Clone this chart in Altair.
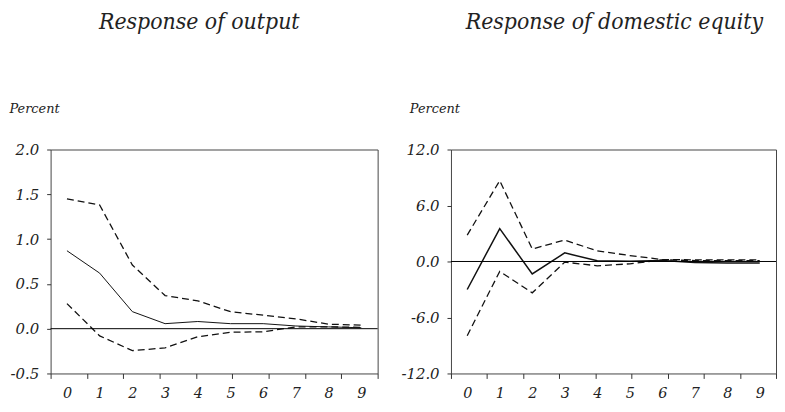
import altair as alt
import pandas as pd

# ---- data ----
steps = [0, 1, 2, 3, 4, 5, 6, 7, 8, 9]

output_mid = [0.87, 0.62, 0.19, 0.056, 0.08, 0.056, 0.056, 0.03, 0.02, 0.01]
output_upper = [1.45, 1.38, 0.71, 0.37, 0.31, 0.19, 0.15, 0.11, 0.05, 0.04]
output_lower = [0.28, -0.08, -0.245, -0.215, -0.09, -0.04, -0.035, 0.02, 0.02, 0.015]

equity_mid = [-3.0, 3.53, -1.34, 0.92, 0.07, 0.03, 0.10, -0.10, -0.15, -0.15]
equity_upper = [2.83, 8.66, 1.34, 2.30, 1.13, 0.64, 0.21, 0.18, 0.18, 0.18]
equity_lower = [-7.95, -1.06, -3.36, -0.07, -0.46, -0.25, 0.18, 0.10, 0.10, 0.10]

output_ticks = [-0.5, 0.0, 0.5, 1.0, 1.5, 2.0]
equity_ticks = [-12.0, -6.0, 0.0, 6.0, 12.0]
# bottom tick marks: 10 evenly spaced marks across the frame
x_tick_marks = [-0.5 + k * 10 / 9 for k in range(10)]

titles = ["Response of output", "Response of domestic equity"]
y_title = "Percent"

SERIF = "DejaVu Serif"
TITLE_FONT = "DejaVu Serif Condensed, DejaVu Serif"
INK = "#222222"


def make_df(mid, upper, lower):
    rows = []
    for s, m, u, l in zip(steps, mid, upper, lower):
        rows.append({"step": s, "value": m, "kind": "mid"})
        rows.append({"step": s, "value": u, "kind": "upper"})
        rows.append({"step": s, "value": l, "kind": "lower"})
    return pd.DataFrame(rows)


def panel(df, ydomain, yvalues, title, dx, width, mid_width):
    xscale = alt.Scale(domain=[-0.5, 9.5], nice=False, zero=False)
    yscale = alt.Scale(domain=ydomain, nice=False, zero=False)
    label_axis = alt.Axis(
        values=steps, ticks=False, domain=False, grid=False, title=None,
        orient="bottom", labelFont=SERIF, labelFontStyle="italic",
        labelFontSize=14.5, labelColor=INK, labelPadding=13,
        labelFlush=False, labelOverlap=False,
    )
    tick_axis = alt.Axis(
        values=x_tick_marks, labels=False, ticks=True, tickSize=5,
        tickColor="#333333", tickWidth=1, domain=False, grid=False,
        title=None, orient="bottom",
    )
    yaxis = alt.Axis(
        values=yvalues,
        labelExpr="replace(format(datum.value, '.1f'), '\u2212', '-')",
        tickSize=4, tickColor="#333333", domain=False, grid=False,
        labelFont=SERIF, labelFontStyle="italic", labelFontSize=15,
        labelColor=INK, labelPadding=8, labelFlush=False, labelOverlap=False,
        title=y_title, titleAngle=0, titleAlign="left", titleBaseline="alphabetic",
        titleX=-42, titleY=-37, titleFont=SERIF, titleFontStyle="italic",
        titleFontWeight="normal", titleFontSize=13, titleColor=INK,
    )
    y_enc = alt.Y("value:Q", scale=yscale, axis=yaxis)

    mid = alt.Chart(df).transform_filter(alt.datum.kind == "mid").mark_line(
        color="#111111", strokeWidth=mid_width
    ).encode(x=alt.X("step:Q", scale=xscale, axis=label_axis), y=y_enc)

    band = alt.Chart(df).transform_filter(alt.datum.kind != "mid").mark_line(
        color="#111111", strokeWidth=1.3, strokeDash=[7, 4]
    ).encode(
        x=alt.X("step:Q", scale=xscale, axis=tick_axis),
        y=y_enc,
        detail="kind:N",
    )

    zero = alt.Chart(pd.DataFrame({"value": [0.0]})).mark_rule(
        color="black", strokeWidth=1
    ).encode(y=y_enc)

    return alt.layer(mid, band, zero).resolve_axis(x="independent").properties(
        width=width, height=226,
        title=alt.TitleParams(
            title, font=TITLE_FONT, fontSize=23, fontStyle="italic",
            fontWeight="normal", color=INK, anchor="middle", frame="group",
            dx=dx, offset=70,
        ),
    )


left = panel(make_df(output_mid, output_upper, output_lower),
             [-0.5, 2.0], output_ticks, titles[0], -15, 330, 1.0)
right = panel(make_df(equity_mid, equity_upper, equity_lower),
              [-12.0, 12.0], equity_ticks, titles[1], 1, 328, 1.5)

chart = alt.hconcat(left, right, spacing=22).properties(padding=0).configure_view(
    stroke="#444444", strokeWidth=1
)

chart.save("out.html", embed_options={"renderer": "svg", "actions": False})
